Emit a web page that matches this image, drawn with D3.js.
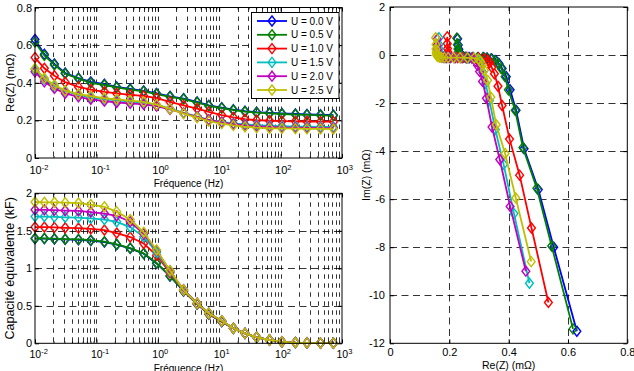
<!DOCTYPE html>
<html>
<head>
<meta charset="utf-8">
<title>Impedance spectra</title>
<script src="https://d3js.org/d3.v7.min.js"></script>
<style>
  body { margin: 0; background: #fff; }
  text { font-family: "Liberation Sans", Arial, sans-serif; fill: #000; }
</style>
</head>
<body>
<div id="chart"></div>
<script>
// measurement frequencies (Hz)
const freq = [0.01, 0.0142, 0.0207, 0.031, 0.051, 0.081, 0.135, 0.214, 0.355, 0.589, 0.955, 1.58, 2.63,
              4.37, 6.76, 11, 17, 26.3, 40.7, 66, 105, 174, 269, 447, 724];

const labels = ["U = 0.0 V", "U = 0.5 V", "U = 1.0 V", "U = 1.5 V", "U = 2.0 V", "U = 2.5 V"];
const colors = ["#0000ff", "#008000", "#ff0000", "#00bfbf", "#bf00bf", "#bfbf00"];

// Re(Z) in mOhm
const reZ_00 = [0.630, 0.552, 0.500, 0.452, 0.425, 0.405, 0.392, 0.378, 0.367, 0.357, 0.343, 0.328, 0.316, 0.298, 0.280, 0.268, 0.257, 0.249, 0.244, 0.240, 0.237, 0.234, 0.232, 0.230, 0.228];
const reZ_05 = [0.617, 0.545, 0.495, 0.448, 0.422, 0.399, 0.388, 0.375, 0.364, 0.354, 0.340, 0.325, 0.313, 0.295, 0.277, 0.265, 0.254, 0.246, 0.241, 0.237, 0.234, 0.231, 0.229, 0.227, 0.225];
const reZ_10 = [0.534, 0.477, 0.437, 0.403, 0.378, 0.364, 0.352, 0.343, 0.336, 0.330, 0.318, 0.298, 0.280, 0.262, 0.245, 0.228, 0.216, 0.206, 0.201, 0.198, 0.196, 0.195, 0.194, 0.193, 0.193];
const reZ_15 = [0.470, 0.418, 0.383, 0.355, 0.335, 0.322, 0.313, 0.306, 0.300, 0.294, 0.282, 0.262, 0.240, 0.220, 0.203, 0.192, 0.184, 0.178, 0.174, 0.171, 0.169, 0.167, 0.166, 0.165, 0.165];
const reZ_20 = [0.458, 0.405, 0.370, 0.344, 0.325, 0.312, 0.302, 0.295, 0.290, 0.285, 0.276, 0.258, 0.238, 0.219, 0.202, 0.189, 0.180, 0.173, 0.168, 0.165, 0.162, 0.161, 0.160, 0.159, 0.159];
const reZ_25 = [0.476, 0.424, 0.388, 0.358, 0.340, 0.329, 0.318, 0.312, 0.305, 0.298, 0.284, 0.261, 0.236, 0.215, 0.196, 0.183, 0.173, 0.166, 0.161, 0.158, 0.157, 0.156, 0.155, 0.155, 0.154];

// Im(Z) in mOhm
const imZ_00 = [-11.5, -8.0, -5.6, -3.9, -2.3, -1.45, -0.9, -0.56, -0.35, -0.23, -0.16, -0.13, -0.11, -0.11, -0.11, -0.11, -0.10, -0.09, -0.06, -0.02, 0.04, 0.12, 0.24, 0.42, 0.68];
const imZ_05 = [-11.4, -7.95, -5.55, -3.85, -2.3, -1.45, -0.9, -0.56, -0.35, -0.23, -0.16, -0.13, -0.11, -0.11, -0.11, -0.11, -0.10, -0.09, -0.06, -0.02, 0.04, 0.12, 0.25, 0.43, 0.70];
const imZ_10 = [-10.3, -7.2, -5.0, -3.5, -2.1, -1.3, -0.78, -0.51, -0.32, -0.21, -0.15, -0.12, -0.11, -0.11, -0.11, -0.11, -0.10, -0.09, -0.06, -0.02, 0.04, 0.13, 0.27, 0.47, 0.76];
const imZ_15 = [-9.5, -6.6, -4.55, -3.1, -1.9, -1.18, -0.72, -0.46, -0.28, -0.18, -0.13, -0.12, -0.11, -0.11, -0.11, -0.11, -0.10, -0.09, -0.06, -0.02, 0.04, 0.12, 0.25, 0.44, 0.72];
const imZ_20 = [-9.0, -6.3, -4.35, -3.0, -1.8, -1.1, -0.68, -0.43, -0.27, -0.17, -0.13, -0.12, -0.11, -0.11, -0.11, -0.11, -0.10, -0.09, -0.06, -0.02, 0.03, 0.11, 0.23, 0.41, 0.66];
const imZ_25 = [-8.6, -5.95, -4.1, -2.9, -1.75, -1.05, -0.64, -0.41, -0.26, -0.17, -0.13, -0.12, -0.11, -0.11, -0.11, -0.11, -0.10, -0.09, -0.06, -0.02, 0.04, 0.12, 0.25, 0.44, 0.72];

// equivalent capacitance in kF
const cap_00 = [1.395, 1.395, 1.39, 1.385, 1.38, 1.37, 1.35, 1.315, 1.265, 1.195, 1.065, 0.895, 0.695, 0.522, 0.388, 0.288, 0.198, 0.132, 0.08, 0.044, 0.02, 0.01, 0.005, 0.003, 0.002];
const cap_05 = [1.40, 1.40, 1.395, 1.39, 1.385, 1.375, 1.355, 1.32, 1.27, 1.20, 1.07, 0.90, 0.70, 0.525, 0.39, 0.29, 0.20, 0.133, 0.08, 0.044, 0.02, 0.01, 0.005, 0.003, 0.002];
const cap_10 = [1.55, 1.55, 1.545, 1.54, 1.535, 1.525, 1.51, 1.47, 1.417, 1.33, 1.173, 0.94, 0.705, 0.53, 0.395, 0.295, 0.20, 0.133, 0.08, 0.044, 0.02, 0.01, 0.005, 0.003, 0.002];
const cap_15 = [1.69, 1.69, 1.685, 1.68, 1.675, 1.665, 1.65, 1.62, 1.55, 1.42, 1.21, 0.955, 0.71, 0.533, 0.40, 0.30, 0.20, 0.133, 0.08, 0.044, 0.02, 0.01, 0.005, 0.003, 0.002];
const cap_20 = [1.78, 1.78, 1.775, 1.77, 1.765, 1.75, 1.73, 1.70, 1.62, 1.46, 1.235, 0.965, 0.715, 0.535, 0.40, 0.30, 0.20, 0.133, 0.08, 0.044, 0.02, 0.01, 0.005, 0.003, 0.002];
const cap_25 = [1.884, 1.88, 1.88, 1.875, 1.87, 1.85, 1.82, 1.755, 1.65, 1.48, 1.244, 0.97, 0.71, 0.533, 0.40, 0.30, 0.20, 0.133, 0.08, 0.044, 0.02, 0.01, 0.005, 0.003, 0.002];

const decades = [1e-2, 1e-1, 1e0, 1e1, 1e2, 1e3];
const reTicks = [0, 0.2, 0.4, 0.6, 0.8];
const capTicks = [0, 0.5, 1, 1.5, 2];
const nyqXTicks = [0, 0.2, 0.4, 0.6, 0.8];
const nyqYTicks = [2, 0, -2, -4, -6, -8, -10, -12];

const reAll = [reZ_00, reZ_05, reZ_10, reZ_15, reZ_20, reZ_25];
const imAll = [imZ_00, imZ_05, imZ_10, imZ_15, imZ_20, imZ_25];
const capAll = [cap_00, cap_05, cap_10, cap_15, cap_20, cap_25];

const series = labels.map((name, i) => ({
  name, color: colors[i],
  re: freq.map((f, j) => ({ x: f, y: reAll[i][j] })),
  cap: freq.map((f, j) => ({ x: f, y: capAll[i][j] })),
  nyq: freq.map((f, j) => ({ x: reAll[i][j], y: imAll[i][j] }))
}));

const width = 634, height = 371;
const svg = d3.select("#chart").append("svg")
  .attr("width", width).attr("height", height);

const diamond = "M0,-5L3.9,0L0,5L-3.9,0Z";
const fontSize = 11;
const numFmt = d => d === 0 ? "0" : (Number.isInteger(d) ? String(d) : d3.format(".1f")(d));

// minor log positions 2..9 per decade
const minor = [];
for (let e = -2; e < 3; e++) for (let k = 2; k < 10; k++) minor.push(k * Math.pow(10, e));

function frameTicks(g, x, y, box, xTicks, yTicks, tick) {
  const innerAxis = (axis, tv, size) => axis.tickValues(tv).tickSizeInner(-size).tickSizeOuter(0).tickFormat("");
  g.append("g").attr("transform", `translate(0,${box.b})`).call(innerAxis(d3.axisBottom(x), xTicks, tick));
  g.append("g").attr("transform", `translate(0,${box.t})`).call(innerAxis(d3.axisTop(x), xTicks, tick));
  g.append("g").attr("transform", `translate(${box.l},0)`).call(innerAxis(d3.axisLeft(y), yTicks, tick));
  g.append("g").attr("transform", `translate(${box.r},0)`).call(innerAxis(d3.axisRight(y), yTicks, tick));
}

function drawSeries(g, x, y, key) {
  const line = d3.line().x(d => x(d.x)).y(d => y(d.y));
  series.forEach(s => {
    g.append("path").datum(s[key])
      .attr("d", line).attr("fill", "none")
      .attr("stroke", s.color).attr("stroke-width", 1.8);
    g.selectAll(null).data(s[key]).join("path")
      .attr("d", diamond)
      .attr("transform", d => `translate(${x(d.x)},${y(d.y)})`)
      .attr("fill", "none").attr("stroke", s.color).attr("stroke-width", 1.4);
  });
}

function logPanel(box, yDomain, yTicks, yLabel, key, ylabelSize) {
  const g = svg.append("g");
  const x = d3.scaleLog().domain([1e-2, 1e3]).range([box.l, box.r]);
  const y = d3.scaleLinear().domain(yDomain).range([box.b, box.t]);

  // grid
  const vgrid = minor.concat(decades).filter(v => v > 1e-2 && v < 1e3);
  g.append("g").selectAll("line").data(vgrid).join("line")
    .attr("x1", d => Math.round(x(d)) + 0.5).attr("x2", d => Math.round(x(d)) + 0.5)
    .attr("y1", box.t).attr("y2", box.b)
    .attr("stroke", "#000").attr("stroke-width", 0.8).attr("stroke-dasharray", "4.5,4.5");
  g.append("g").selectAll("line").data(yTicks.slice(1, -1)).join("line")
    .attr("x1", box.l).attr("x2", box.r)
    .attr("y1", d => Math.round(y(d)) + 0.5).attr("y2", d => Math.round(y(d)) + 0.5)
    .attr("stroke", "#000").attr("stroke-width", 0.8).attr("stroke-dasharray", "7,4.5");

  drawSeries(g, x, y, key);

  g.append("rect").attr("x", box.l).attr("y", box.t)
    .attr("width", box.r - box.l).attr("height", box.b - box.t)
    .attr("fill", "none").attr("stroke", "#000").attr("stroke-width", 1);

  frameTicks(g, x, y, box, decades, yTicks, 4);
  // minor log ticks
  g.append("g").attr("transform", `translate(0,${box.b})`)
    .call(d3.axisBottom(x).tickValues(minor).tickSizeInner(-2).tickSizeOuter(0).tickFormat(""));
  g.append("g").attr("transform", `translate(0,${box.t})`)
    .call(d3.axisTop(x).tickValues(minor).tickSizeInner(-2).tickSizeOuter(0).tickFormat(""));
  g.selectAll(".domain").remove();

  // tick labels
  const ax = g.append("g").attr("transform", `translate(0,${box.b})`)
    .call(d3.axisBottom(x).tickValues(decades).tickSize(0).tickPadding(box.pad).tickFormat(""));
  ax.select(".domain").remove();
  ax.selectAll(".tick text").attr("text-anchor", "start").attr("font-size", box.tickFont)
    .each(function (d) {
      const t = d3.select(this);
      t.append("tspan").attr("x", -6).text("10");
      t.append("tspan").attr("dy", "-0.5em").attr("font-size", 7.5).text(Math.round(Math.log10(d)));
    });
  const ay = g.append("g").attr("transform", `translate(${box.l},0)`)
    .call(d3.axisLeft(y).tickValues(yTicks).tickSize(0).tickPadding(3).tickFormat(numFmt));
  ay.select(".domain").remove();
  ay.selectAll("text").attr("font-size", fontSize);

  g.append("text").attr("x", (box.l + box.r) / 2).attr("y", box.xlab)
    .attr("text-anchor", "middle").attr("font-size", 10).text("Fréquence (Hz)");
  g.append("text").attr("transform", `translate(${box.ylx},${(box.t + box.b) / 2}) rotate(-90)`)
    .attr("text-anchor", "middle").attr("font-size", ylabelSize).text(yLabel);
  return g;
}

// top: Re(Z)
const topBox = { l: 35, r: 342, t: 7.5, b: 158, xlab: 187, ylx: 14, pad: 8, tickFont: 11 };
logPanel(topBox, [0, 0.8], reTicks, "Re(Z) (mΩ)", "re", 11.5);

// bottom: equivalent capacitance
const botBox = { l: 35, r: 342, t: 193.3, b: 343.3, xlab: 371.5, ylx: 14, pad: 7, tickFont: 10.5 };
logPanel(botBox, [0, 2], capTicks, "Capacité équivalente (kF)", "cap", 12.5);

// legend
const lg = svg.append("g");
lg.append("rect").attr("x", 251.5).attr("y", 12.5).attr("width", 87.5).attr("height", 86)
  .attr("fill", "#fff").attr("stroke", "#000").attr("stroke-width", 1);
series.forEach((s, i) => {
  const yy = 21 + i * 13.8;
  lg.append("line").attr("x1", 257).attr("x2", 287).attr("y1", yy).attr("y2", yy)
    .attr("stroke", s.color).attr("stroke-width", 1.8);
  lg.append("path").attr("d", diamond).attr("transform", `translate(272,${yy})`)
    .attr("fill", "none").attr("stroke", s.color).attr("stroke-width", 1.4);
  lg.append("text").attr("x", 291).attr("y", yy + 3.6).attr("font-size", 10).text(s.name);
});

// right: Nyquist plot
const nb = { l: 390, r: 627.3, t: 7, b: 343.3 };
const gN = svg.append("g");
const xN = d3.scaleLinear().domain([0, 0.8]).range([nb.l, nb.r]);
const yN = d3.scaleLinear().domain([-12, 2]).range([nb.b, nb.t]);

gN.append("g").selectAll("line").data(nyqXTicks.slice(1, -1)).join("line")
  .attr("x1", d => Math.round(xN(d)) + 0.5).attr("x2", d => Math.round(xN(d)) + 0.5)
  .attr("y1", nb.t).attr("y2", nb.b)
  .attr("stroke", "#000").attr("stroke-width", 0.8).attr("stroke-dasharray", "7,4.5");
gN.append("g").selectAll("line").data(nyqYTicks.slice(1, -1)).join("line")
  .attr("x1", nb.l).attr("x2", nb.r)
  .attr("y1", d => Math.round(yN(d)) + 0.5).attr("y2", d => Math.round(yN(d)) + 0.5)
  .attr("stroke", "#000").attr("stroke-width", 0.8).attr("stroke-dasharray", "7,4.5");

drawSeries(gN, xN, yN, "nyq");

gN.append("rect").attr("x", nb.l).attr("y", nb.t)
  .attr("width", nb.r - nb.l).attr("height", nb.b - nb.t)
  .attr("fill", "none").attr("stroke", "#000").attr("stroke-width", 1);
frameTicks(gN, xN, yN, nb, nyqXTicks, nyqYTicks, 4);
gN.selectAll(".domain").remove();

const axN = gN.append("g").attr("transform", `translate(0,${nb.b})`)
  .call(d3.axisBottom(xN).tickValues(nyqXTicks).tickSize(0).tickPadding(5).tickFormat(numFmt));
axN.select(".domain").remove();
axN.selectAll("text").attr("font-size", fontSize);
const ayN = gN.append("g").attr("transform", `translate(${nb.l},0)`)
  .call(d3.axisLeft(yN).tickValues(nyqYTicks).tickSize(0).tickPadding(5).tickFormat(numFmt));
ayN.select(".domain").remove();
ayN.selectAll("text").attr("font-size", fontSize);

gN.append("text").attr("x", (nb.l + nb.r) / 2).attr("y", 369)
  .attr("text-anchor", "middle").attr("font-size", 10.5).text("Re(Z) (mΩ)");
gN.append("text").attr("transform", `translate(370,${(nb.t + nb.b) / 2}) rotate(-90)`)
  .attr("text-anchor", "middle").attr("font-size", 10.5).text("Im(Z) (mΩ)");
</script>
</body>
</html>
